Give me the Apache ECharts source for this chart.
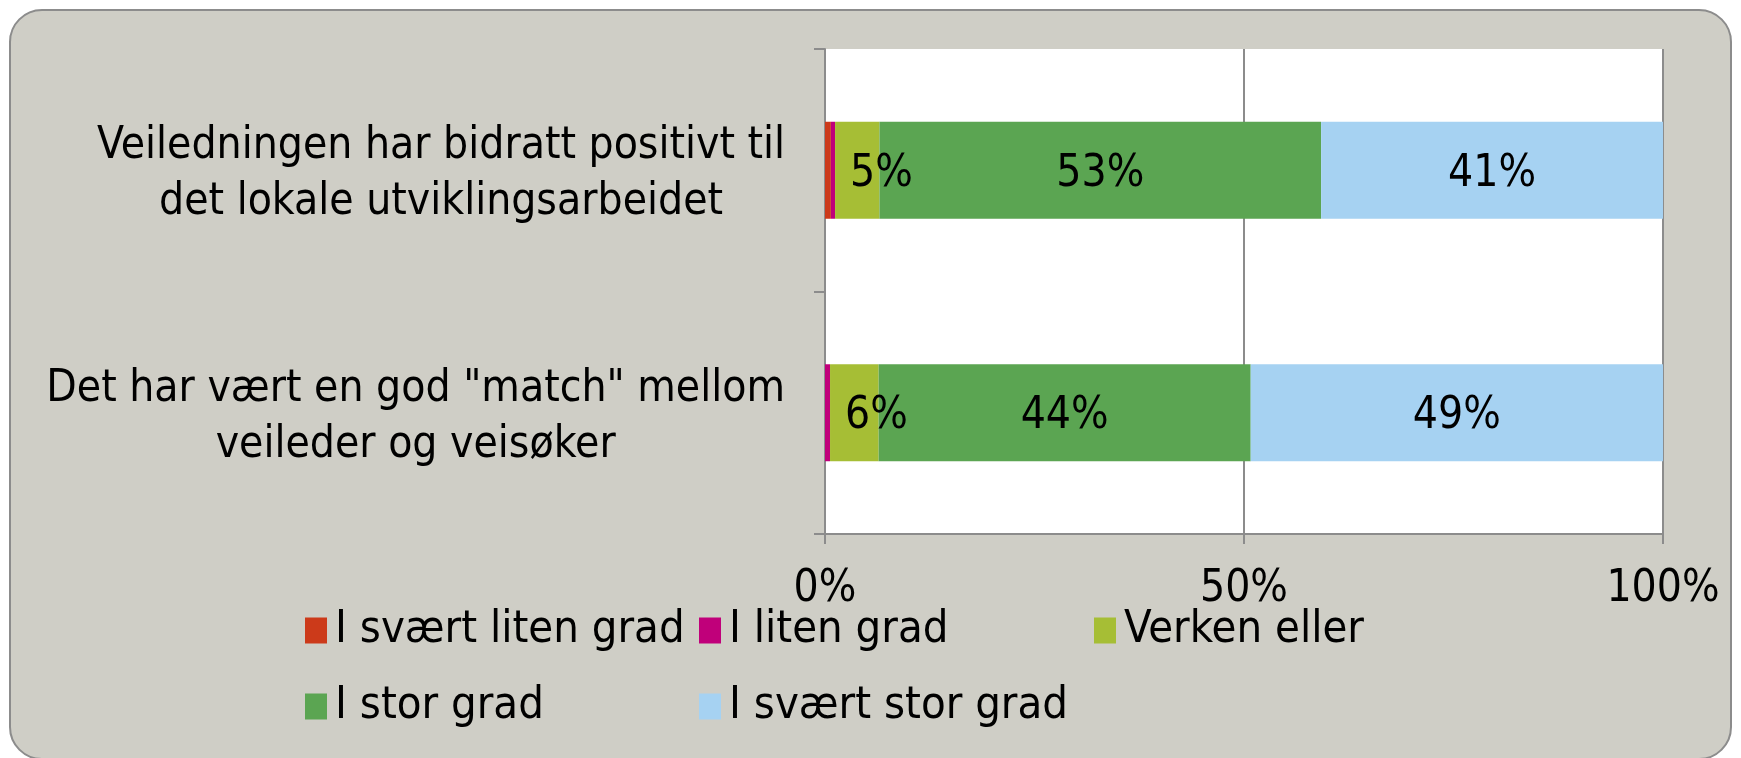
<!DOCTYPE html>
<html>
<head>
<meta charset="utf-8">
<script src="https://cdn.jsdelivr.net/npm/echarts@6/dist/echarts.min.js"></script>
<style>
html,body{margin:0;padding:0;background:#fff;}
#c{width:1741px;height:758px;}
</style>
</head>
<body>
<div id="c"></div>
<script>
const categories = [
  'Veiledningen har bidratt positivt til\ndet lokale utviklingsarbeidet',
  'Det har vært en god "match" mellom\nveileder og veisøker'
];
const seriesNames = ['I svært liten grad', 'I liten grad', 'Verken eller', 'I stor grad', 'I svært stor grad'];
const sværtLiten = [0.7, 0];
const liten = [0.5, 0.6];
const verken = [5.3, 5.8];
const stor = [52.7, 44.4];
const sværtStor = [40.8, 49.2];
const xTicks = [0, 50, 100];

const colors = ['#CC3A1A', '#C0007A', '#A6BE35', '#5BA552', '#A6D2F2'];
const FONT = '"DejaVu Sans Condensed", "DejaVu Sans"';
const FS = 44;
const values = [sværtLiten, liten, verken, stor, sværtStor];

const chart = echarts.init(document.getElementById('c'));
const series = values.map((v, i) => ({
  name: seriesNames[i],
  type: 'bar',
  stack: 'total',
  data: v,
  barCategoryGap: '60%',
  itemStyle: { color: colors[i] },
  label: {
    show: i >= 2,
    position: i === 2 ? 'insideLeft' : 'inside',
    distance: 15,
    offset: [0, 4],
    color: '#000',
    fontFamily: FONT,
    fontSize: FS,
    formatter: p => Math.round(p.value) + '%'
  }
}));

chart.setOption({
  backgroundColor: 'transparent',
  animation: false,
  graphic: [{
    type: 'rect',
    z: -10,
    silent: true,
    shape: { x: 10, y: 10, width: 1721, height: 749, r: 32 },
    style: { fill: '#CFCEC6', stroke: '#8C8C8C', lineWidth: 2 }
  }],
  grid: {
    left: 825, right: 78, top: 49, bottom: 224,
    show: true, backgroundColor: '#FFFFFF', borderWidth: 0
  },
  xAxis: {
    type: 'value',
    min: 0, max: 100, interval: 50,
    axisLine: { show: true, lineStyle: { color: '#8C8C8C', width: 2 } },
    axisTick: { show: true, length: 10, lineStyle: { color: '#8C8C8C', width: 2 } },
    splitLine: { show: true, lineStyle: { color: '#8C8C8C', width: 2 } },
    axisLabel: {
      margin: 34, color: '#000', fontFamily: FONT, fontSize: FS,
      formatter: v => xTicks.includes(v) ? v + '%' : ''
    }
  },
  yAxis: {
    type: 'category',
    inverse: true,
    data: categories,
    axisLine: { show: true, lineStyle: { color: '#8C8C8C', width: 2 } },
    axisTick: { show: true, length: 11, lineStyle: { color: '#8C8C8C', width: 2 } },
    axisLabel: {
      margin: 40, align: 'right',
      padding: [9, 0, 0, 0],
      formatter: v => v.split('\n').map(s => '{c|' + s + '}').join('\n'),
      rich: {
        c: { align: 'center', color: '#000', fontFamily: FONT, fontSize: FS, lineHeight: 56 }
      }
    }
  },
  legend: [
    { data: [seriesNames[0], seriesNames[3]], left: 300 },
    { data: [seriesNames[1], seriesNames[4]], left: 694 },
    { data: [seriesNames[2]], left: 1089 }
  ].map(l => Object.assign(l, {
    top: 603, orient: 'vertical', itemGap: 31,
    icon: 'rect', itemWidth: 22, itemHeight: 26, selectedMode: false,
    textStyle: { color: '#000', fontFamily: FONT, fontSize: 45, padding: [0, 0, 0, 3] }
  })),
  series: series
});
</script>
</body>
</html>
